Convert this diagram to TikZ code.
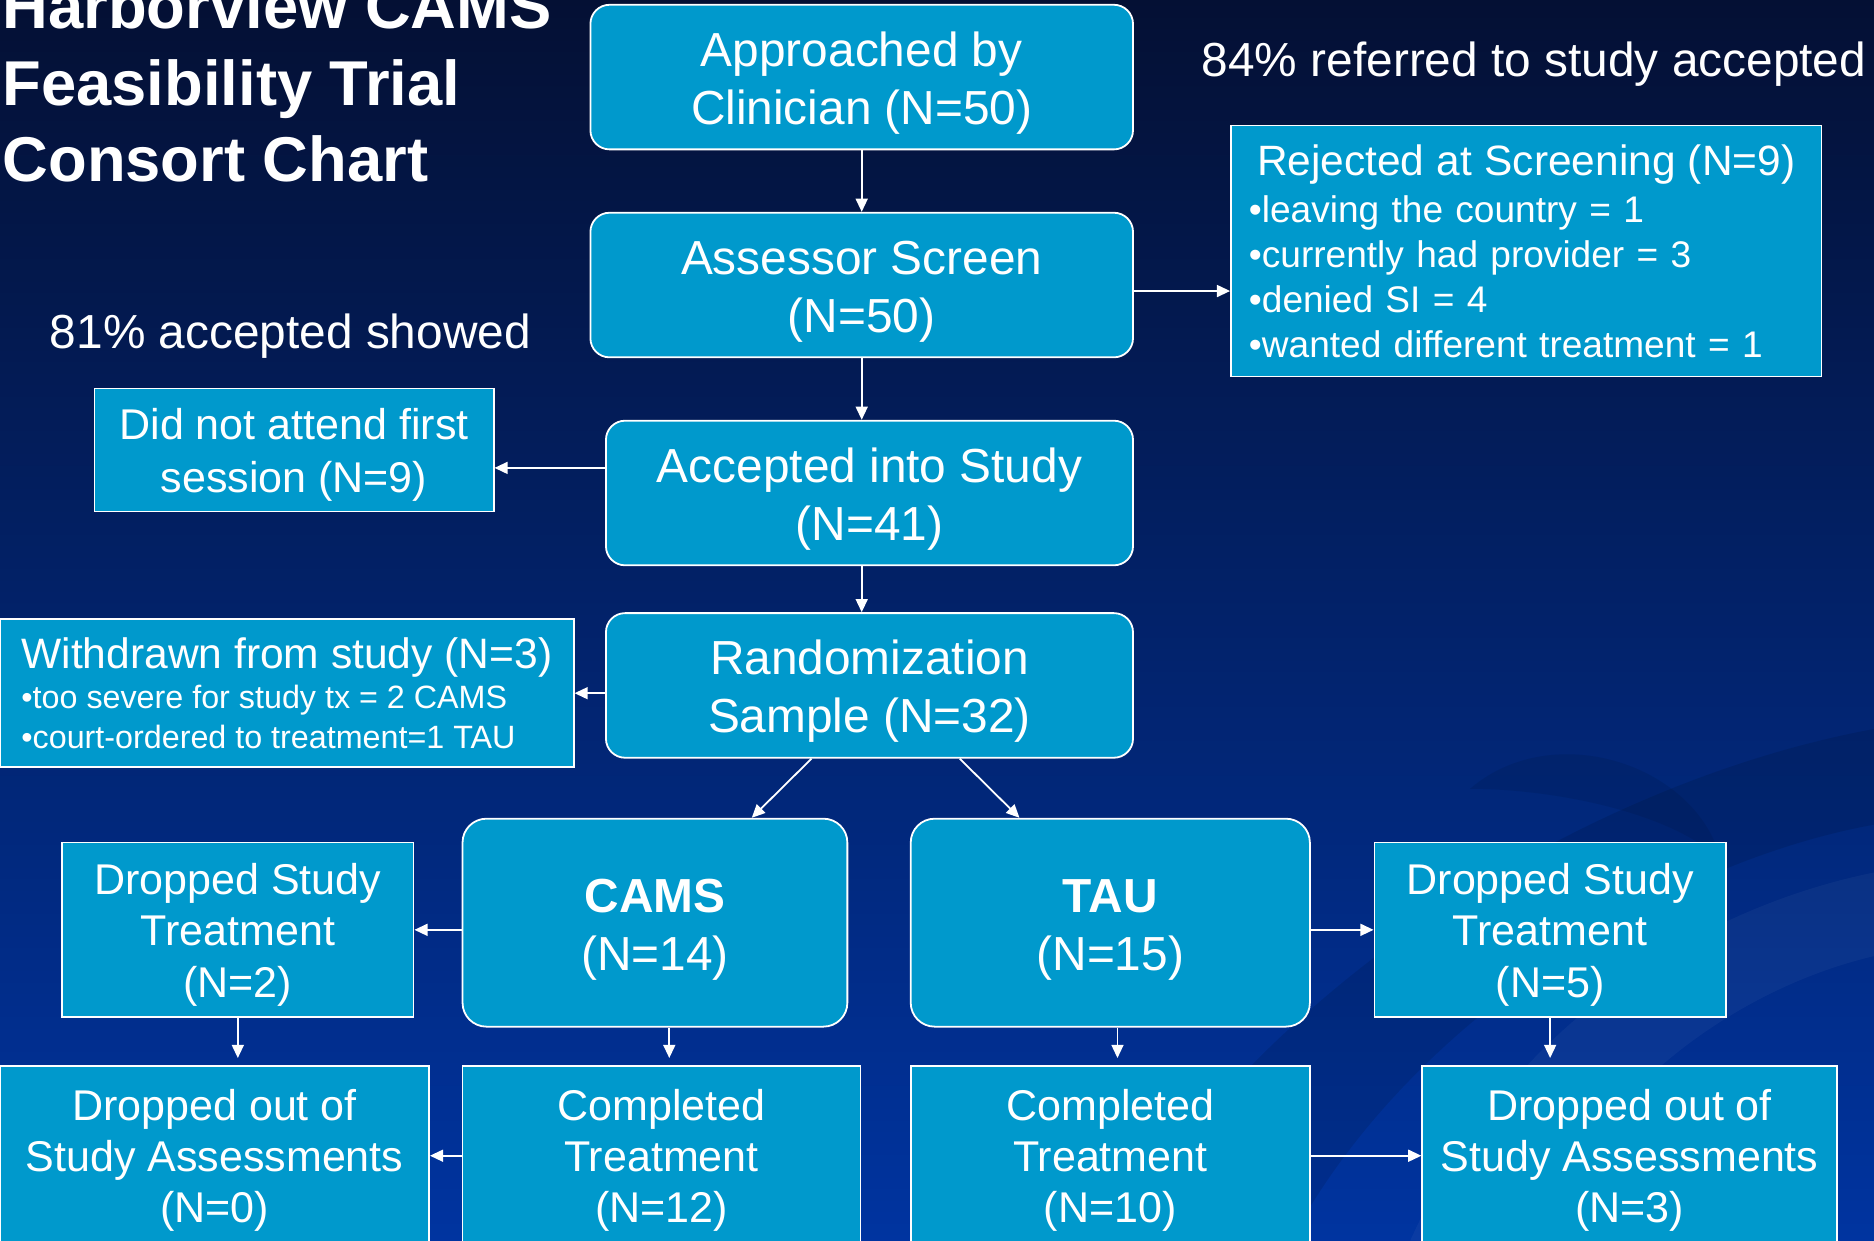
\documentclass[tikz,border=0pt]{standalone}
\usepackage{fontspec}
\setmainfont{Liberation Sans}
\usetikzlibrary{arrows.meta,calc}
\definecolor{boxblue}{RGB}{0,153,204}
\definecolor{bgtop}{RGB}{4,16,52}
\definecolor{bgmid}{RGB}{0,40,132}
\definecolor{bgbot}{RGB}{0,52,160}
\newcommand{\hupa}{\rule{0pt}{39pt}}
\newcommand{\hupb}{\rule{0pt}{34pt}}
\begin{document}
\begin{tikzpicture}[x=1pt,y=-1pt,
  rbox/.style={draw=white,line width=1.5pt,fill=boxblue,rounded corners=16pt,text=white,align=center,inner sep=0pt,font=\fontsize{40}{48.5}\selectfont},
  sbox/.style={draw=white,line width=1.5pt,fill=boxblue,text=white,align=center,inner sep=0pt,font=\fontsize{36}{43}\selectfont},
  arr/.style={draw=white,line width=1.5pt,-{Triangle[length=11pt,width=10pt]}},
  lbl/.style={text=white,inner sep=0pt,anchor=base,font=\fontsize{40}{48}\selectfont},
  ttl/.style={text=white,inner sep=0pt,anchor=base west,font=\bfseries\fontsize{53}{64}\selectfont}]
\useasboundingbox (0,0) rectangle (1568,1038);
\clip (0,0) rectangle (1568,1038);
\shade[top color=bgtop,middle color=bgmid,bottom color=bgbot] (0,0) rectangle (1568,1038);
% background swirls
\fill[black,opacity=0.10] (930,1038) .. controls (1080,800) and (1350,650) .. (1568,610) -- (1568,690) .. controls (1400,720) and (1180,850) .. (1080,1038) -- cycle;
\fill[white,opacity=0.04] (1180,1038) .. controls (1260,860) and (1420,760) .. (1568,730) -- (1568,800) .. controls (1440,830) and (1320,930) .. (1290,1038) -- cycle;
\fill[black,opacity=0.08] (1230,660) .. controls (1300,600) and (1420,640) .. (1440,720) .. controls (1400,680) and (1300,660) .. (1230,660) -- cycle;

% title
\node[ttl] (t1) at (2,24) {Harborview CAMS};
\node[ttl] (t2) at (2,88) {Feasibility Trial};
\node[ttl] (t3) at (2,152) {Consort Chart};
\node[lbl] (l84) at (1283.5,64) {84\% referred to study accepted};
\node[lbl] (l81) at (243,292) {81\% accepted showed};

% boxes
\node[rbox,minimum width=454pt,minimum height=121pt] (appr) at (721,64.5) {\hupa Approached by\\Clinician (N=50)};
\node[rbox,minimum width=454pt,minimum height=121pt] (assess) at (721,238.5) {\hupa Assessor Screen\\(N=50)};
\node[sbox,minimum width=494pt,minimum height=210pt,text width=464pt,align=left,font=\fontsize{31}{37.5}\selectfont] (rej) at (1277,210)
  {\makebox[\linewidth]{\fontsize{35.5}{37}\selectfont Rejected at Screening (N=9)}\\[2.5pt]
   •leaving the country = 1\\
   •currently had provider = 3\\
   •denied SI = 4\\
   •wanted different treatment = 1};
\node[rbox,minimum width=441pt,minimum height=121pt] (accept) at (727.5,412.5) {\hupa Accepted into Study\\(N=41)};
\node[sbox,minimum width=334pt,minimum height=103pt,font=\fontsize{36}{44}\selectfont] (dna) at (246,376.5) {\hupb Did not attend first\\session (N=9)};
\node[rbox,minimum width=441pt,minimum height=121pt] (rand) at (727.5,573.5) {\hupa Randomization\\Sample (N=32)};
\node[sbox,minimum width=480pt,minimum height=124pt,align=left,font=\fontsize{27}{33.5}\selectfont] (wd) at (240,580)
  {{\fontsize{35.6}{33.5}\selectfont Withdrawn from study (N=3)}\\
   •too severe for study tx = 2 CAMS\\
   •court-ordered to treatment=1 TAU};
\node[rbox,minimum width=322pt,minimum height=174pt,rounded corners=20pt] (cams) at (548,772) {\hupa{\bfseries CAMS}\\(N=14)};
\node[rbox,minimum width=334pt,minimum height=174pt,rounded corners=20pt] (tau) at (929,772) {\hupa{\bfseries TAU}\\(N=15)};
\node[sbox,minimum width=294pt,minimum height=146pt] (dst1) at (199,778) {\hupb Dropped Study\\Treatment\\(N=2)};
\node[sbox,minimum width=294pt,minimum height=146pt] (dst2) at (1297,778) {\hupb Dropped Study\\Treatment\\(N=5)};
\node[sbox,minimum width=359pt,minimum height=150pt] (do1) at (179.5,967) {\hupb Dropped out of\\Study Assessments\\(N=0)};
\node[sbox,minimum width=333pt,minimum height=150pt] (comp1) at (553.5,967) {\hupb Completed\\Treatment\\(N=12)};
\node[sbox,minimum width=334pt,minimum height=150pt] (comp2) at (929,967) {\hupb Completed\\Treatment\\(N=10)};
\node[sbox,minimum width=347pt,minimum height=150pt] (do2) at (1363.5,967) {\hupb Dropped out of\\Study Assessments\\(N=3)};

% connectors
\draw[arr] (appr.south) -- (appr.south |- assess.north);
\coordinate (a1) at ($(assess.east)+(0,5)$);
\draw[arr] (a1) -- (a1 -| rej.west);
\draw[arr] (assess.south) -- (assess.south |- accept.north);
\coordinate (a2) at ($(accept.west)+(0,-21)$);
\draw[arr] (a2) -- (a2 -| dna.east);
\draw[arr] (accept.south -| assess.south) -- (rand.north -| assess.south);
\draw[arr] (rand.west |- wd.east) -- (wd.east);
\coordinate (d1) at ($(rand.south)+(-48.5,0)$);
\coordinate (d1e) at ($(cams.north)+(81,0)$);
\draw[arr] (d1) -- (d1e);
\coordinate (d2) at ($(rand.south)+(75.5,0)$);
\coordinate (d2e) at ($(tau.north)+(-76,0)$);
\draw[arr] (d2) -- (d2e);
\draw[arr] (cams.west |- dst1.east) -- (dst1.east);
\draw[arr] (tau.east |- dst2.east) -- (dst2.west);
\draw[arr,shorten >=6pt] (dst1.south) -- (dst1.south |- do1.north);
\coordinate (c1) at ($(cams.south)+(12,0)$);
\draw[arr,shorten >=6pt] (c1) -- (c1 |- comp1.north);
\coordinate (c2) at ($(tau.south)+(6,0)$);
\draw[arr,shorten >=6pt] (c2) -- (c2 |- comp2.north);
\draw[arr,shorten >=6pt] (dst2.south) -- (dst2.south |- do2.north);
\draw[arr] (comp1.west) -- (comp1.west -| do1.east);
\draw[arr] (comp2.east) -- (comp2.east -| do2.west);
\end{tikzpicture}
\end{document}
